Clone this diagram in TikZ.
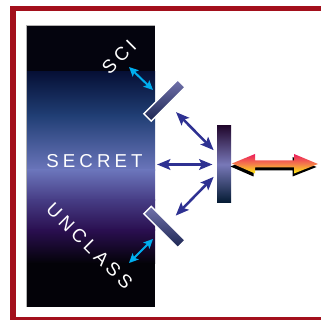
\documentclass[tikz,border=0pt]{standalone}
\usepackage{fontspec}
\newfontfamily\tagfont[LetterSpace=22]{Liberation Sans}
\usetikzlibrary{arrows.meta}
\definecolor{frameRed}{HTML}{A3101C}
\definecolor{navyArrow}{HTML}{2E3192}
\definecolor{cyanArrow}{HTML}{00AEEF}
\definecolor{panelA}{HTML}{04040E}
\definecolor{panelB}{HTML}{061036}
\definecolor{panelC}{HTML}{203E74}
\definecolor{panelD}{HTML}{6B75BB}
\definecolor{panelE}{HTML}{463C84}
\definecolor{panelF}{HTML}{2A0F50}
\definecolor{panelG}{HTML}{030208}
\definecolor{mirrorLight}{HTML}{7272AC}
\definecolor{mirrorDark}{HTML}{1C2652}
\definecolor{barTop}{HTML}{22082E}
\definecolor{barMid}{HTML}{7878B8}
\definecolor{barBot}{HTML}{031A32}
\definecolor{bigTop}{HTML}{EC1C5C}
\definecolor{bigMid}{HTML}{F47B4B}
\definecolor{bigBot}{HTML}{FFEE10}

\tikzset{every picture/.style={line width=0.75pt}}
\tikzset{
	tagtext/.style={text=white, inner sep=0pt, font=\tagfont\fontsize{14}{16}\selectfont},
	mirror/.style={draw=white, line width=1.1pt, inner sep=0pt, minimum width=36pt, minimum height=7.8pt, top color=mirrorLight, bottom color=mirrorDark},
	navyarrow/.style={draw=navyArrow, line width=1.9pt, {Stealth[length=10pt,width=8pt,inset=2pt]}-{Stealth[length=10pt,width=8pt,inset=2pt]}},
	cyanarrow/.style={draw=cyanArrow, line width=1.5pt, {Stealth[length=7pt,width=6.5pt,inset=1.4pt]}-{Stealth[length=7pt,width=6.5pt,inset=1.4pt]}}
}

\begin{document}
\begin{tikzpicture}[x=0.75pt,y=0.75pt,yscale=-1,xscale=1]
	\useasboundingbox (0,0) rectangle (321,320);

	% frame
	\draw[frameRed, line width=4pt] (13,8.5) rectangle (340,319.5);

	% shaded panel
	\fill[panelA] (26,25) rectangle (155,72.5);
	\shade[top color=panelB, bottom color=panelC] (26,72) rectangle (155,115.5);
	\shade[top color=panelC, bottom color=panelD] (26,115) rectangle (155,170.5);
	\shade[top color=panelD, bottom color=panelE] (26,170) rectangle (155,200.5);
	\shade[top color=panelE, bottom color=panelF] (26,200) rectangle (155,230.5);
	\shade[top color=panelF, bottom color=panelG] (26,230) rectangle (155,263.5);
	\fill[panelG] (26,263) rectangle (155,307);
	\draw[gray!60, line width=0.4pt] (26,307) -- (26,25) -- (155,25);
	\coordinate (panelE) at (155,164.5);

	% labels
	\node[tagtext] (secret) at (94.5,161) {SECRET};
	\node[tagtext, rotate=45] (sci) at (119,57) {SCI};
	\node[tagtext, rotate=-45] (unclass) at (89.5,246) {UNCLASS};

	% mirrors and bar
	\node[mirror, rotate=45] (mirtop) at (164.5,100.5) {};
	\node[mirror, rotate=-45] (mirbot) at (164.5,227) {};
	\node[inner sep=0pt, minimum width=10.5pt, minimum height=57.75pt, top color=barTop, bottom color=barBot, middle color=barMid] (bar) at (224,164.5) {};

	% navy arrows
	\draw[navyarrow, shorten <=7.8pt, shorten >=3pt] (mirtop.south) -- ([yshift=-8.6pt]bar.west);
	\draw[navyarrow, shorten <=1.5pt, shorten >=3pt] (panelE) -- (bar.west);
	\draw[navyarrow, shorten <=7.5pt, shorten >=3pt] (mirbot.north) -- ([yshift=7.1pt]bar.west);

	% cyan arrows
	\coordinate (sciA) at (129,67);
	\coordinate (sciB) at (153,90);
	\coordinate (uncA) at (153,239);
	\coordinate (uncB) at (129,263);
	\draw[cyanarrow] (sciA) -- (sciB);
	\draw[cyanarrow] (uncA) -- (uncB);

	% big arrow with shadow
	\fill[black] (230.5,166.5) -- (253.5,157) -- (253.5,163.5) -- (292.5,163.5) -- (292.5,157) -- (316.5,167) -- (292.5,176.5) -- (292.5,170.5) -- (253.5,170.5) -- (253.5,176.5) -- cycle;
	\shade[top color=bigTop, bottom color=bigBot, middle color=bigMid] (232,163.5) -- (255,154) -- (255,160.5) -- (294,160.5) -- (294,154) -- (318,164) -- (294,173.5) -- (294,167.5) -- (255,167.5) -- (255,173.5) -- cycle;

\end{tikzpicture}
\end{document}
